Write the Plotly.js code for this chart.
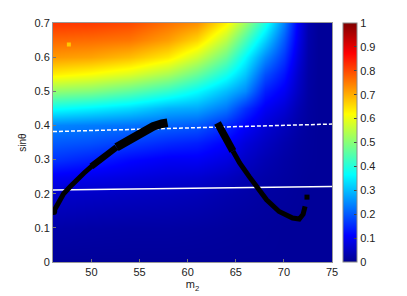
<!DOCTYPE html>
<html>
<head>
<meta charset="utf-8">
<script src="https://cdn.plot.ly/plotly-3.0.1.min.js"></script>
<style>html,body{margin:0;padding:0;background:#fff;}#chart{width:407px;height:296px;}</style>
</head>
<body>
<div id="chart"></div>
<script>
// grid of the coloured field
const gridX = [46, 50, 54, 58, 61, 64, 66, 68, 70, 71.5, 72.5, 73.5, 75];
const gridY = [0, 0.1, 0.2, 0.25, 0.3, 0.35, 0.4, 0.45, 0.5, 0.55, 0.6, 0.65, 0.7];
// one column of values per gridX entry, bottom to top
const col46   = [0.01,0.025,0.06,0.1,0.16,0.2,0.245,0.375,0.51,0.635,0.72,0.77,0.82];
const col50   = [0.01,0.022,0.055,0.09,0.14,0.19,0.235,0.355,0.495,0.615,0.71,0.765,0.815];
const col54   = [0.01,0.02,0.05,0.08,0.115,0.17,0.225,0.33,0.46,0.585,0.685,0.755,0.8];
const col58   = [0.01,0.02,0.045,0.07,0.1,0.15,0.21,0.29,0.415,0.535,0.64,0.715,0.76];
const col61   = [0.01,0.018,0.04,0.065,0.1,0.14,0.2,0.28,0.365,0.47,0.57,0.66,0.73];
const col64   = [0.01,0.015,0.03,0.05,0.08,0.11,0.155,0.23,0.3,0.385,0.47,0.55,0.63];
const col66   = [0.01,0.013,0.025,0.035,0.055,0.075,0.11,0.16,0.25,0.31,0.365,0.44,0.52];
const col68   = [0.01,0.012,0.018,0.025,0.035,0.05,0.07,0.1,0.14,0.19,0.25,0.32,0.39];
const col70   = [0.01,0.01,0.015,0.018,0.022,0.03,0.045,0.07,0.1,0.13,0.165,0.2,0.24];
const col715  = [0.01,0.01,0.012,0.013,0.015,0.018,0.025,0.035,0.05,0.06,0.075,0.09,0.1];
const col725  = [0.01,0.01,0.01,0.01,0.012,0.013,0.015,0.017,0.02,0.022,0.025,0.028,0.03];
const col735  = [0.01,0.01,0.01,0.01,0.01,0.01,0.01,0.01,0.01,0.01,0.01,0.01,0.01];
const col75   = [0.01,0.01,0.01,0.01,0.01,0.01,0.01,0.01,0.01,0.01,0.01,0.01,0.01];

// black curves
const curve1X = [46.07, 46.5, 47.1, 47.8, 48.5, 49.2, 50.0, 50.9, 51.8, 52.6, 53.5, 54.4, 55.4, 56.4, 57.3, 57.9];
const curve1Y = [0.148, 0.172, 0.2, 0.221, 0.242, 0.26, 0.28, 0.299, 0.318, 0.336, 0.352, 0.368, 0.385, 0.397, 0.405, 0.408];
const curve2X = [63.1, 63.5, 64.0, 64.7, 65.4, 66.4, 67.1, 68.2, 69.5, 70.3, 70.9, 71.6, 72.0, 72.2];
const curve2Y = [0.407, 0.385, 0.358, 0.325, 0.29, 0.25, 0.221, 0.182, 0.148, 0.136, 0.129, 0.126, 0.14, 0.163];
const dotX = [72.4];
const dotY = [0.19];
// white reference lines
const dashX = [46, 60, 75];
const dashY = [0.382, 0.392, 0.404];
const solidX = [46, 75];
const solidY = [0.211, 0.221];
// small marker top-left
const markX = [47.65];
const markY = [0.637];

const cols = [col46,col50,col54,col58,col61,col64,col66,col68,col70,col715,col725,col735,col75];
const z = gridY.map((_, i) => cols.map(c => c[i]));

const jet = [
  [0, 'rgb(0,0,143)'], [0.111, 'rgb(0,0,255)'], [0.365, 'rgb(0,255,255)'],
  [0.619, 'rgb(255,255,0)'], [0.873, 'rgb(255,0,0)'], [1, 'rgb(128,0,0)']
];

const seg = (arr, a, b) => arr.slice(a, b);
const traces = [
  {type:'heatmap', x:gridX, y:gridY, z:z, zmin:0, zmax:1, zsmooth:'best', colorscale:jet,
   colorbar:{x:1.039, xanchor:'left', xpad:0, ypad:0, y:0.5, yanchor:'middle', len:1, lenmode:'fraction',
     thickness:14, outlinewidth:1, outlinecolor:'#888', ticks:'inside', ticklen:3, tickcolor:'#444',
     tickvals:[0,0.1,0.2,0.3,0.4,0.5,0.6,0.7,0.8,0.9,1], ticktext:['0','0.1','0.2','0.3','0.4','0.5','0.6','0.7','0.8','0.9','1'],
     tickfont:{family:'Liberation Sans, Arial, sans-serif', size:11, color:'#222'}},
   hoverinfo:'skip'},
  {type:'scatter', mode:'lines', x:dashX, y:dashY, line:{color:'white', width:1.5, dash:'4px,2px'}, hoverinfo:'skip'},
  {type:'scatter', mode:'lines', x:solidX, y:solidY, line:{color:'white', width:1.5}, hoverinfo:'skip'},
  // curve 1: thin lower part, thick upper part
  {type:'scatter', mode:'lines', x:seg(curve1X,0,8), y:seg(curve1Y,0,8), line:{color:'black', width:5}, hoverinfo:'skip'},
  {type:'scatter', mode:'lines', x:seg(curve1X,6,10), y:seg(curve1Y,6,10), line:{color:'black', width:6.5}, hoverinfo:'skip'},
  {type:'scatter', mode:'lines', x:seg(curve1X,9), y:seg(curve1Y,9), line:{color:'black', width:8.5}, hoverinfo:'skip'},
  // curve 2: thick upper part, thin lower part
  {type:'scatter', mode:'lines', x:seg(curve2X,0,4), y:seg(curve2Y,0,4), line:{color:'black', width:7.5}, hoverinfo:'skip'},
  {type:'scatter', mode:'lines', x:seg(curve2X,3), y:seg(curve2Y,3), line:{color:'black', width:5}, hoverinfo:'skip'},
  {type:'scatter', mode:'markers', x:[curve1X[0]], y:[curve1Y[0]], marker:{color:'black', size:7}, hoverinfo:'skip'},
  {type:'scatter', mode:'markers', x:dotX, y:dotY, marker:{color:'black', size:5, symbol:'square'}, hoverinfo:'skip'},
  {type:'scatter', mode:'markers', x:markX, y:markY, marker:{color:'rgb(255,200,0)', size:4, symbol:'square'}, hoverinfo:'skip'}
];

const font = {family:'Liberation Sans, Arial, sans-serif', size:11, color:'#222'};
const layout = {
  width:407, height:296,
  margin:{l:53, r:75, t:23, b:34, pad:0},
  paper_bgcolor:'white', plot_bgcolor:'white',
  showlegend:false,
  font:font,
  xaxis:{range:[46,75], tickvals:[50,55,60,65,70,75], ticks:'inside', ticklen:3, tickcolor:'#777',
    showline:true, mirror:true, linecolor:'#999', linewidth:1, showgrid:false, zeroline:false,
    tickfont:font, title:{text:'m<sub>2</sub>', font:{family:'Liberation Sans, Arial, sans-serif', size:11, color:'#222'}, standoff:2}},
  yaxis:{range:[0,0.7], tickvals:[0,0.1,0.2,0.3,0.4,0.5,0.6,0.7], ticktext:['0','0.1','0.2','0.3','0.4','0.5','0.6','0.7'],
    ticks:'inside', ticklen:3, tickcolor:'#777',
    showline:true, mirror:true, linecolor:'#999', linewidth:1, showgrid:false, zeroline:false,
    tickfont:font, title:{text:'sinθ', font:{family:'Liberation Sans, Arial, sans-serif', size:10, color:'#222'}, standoff:6}}
};

Plotly.newPlot('chart', traces, layout, {staticPlot:true, displayModeBar:false});
</script>
</body>
</html>
